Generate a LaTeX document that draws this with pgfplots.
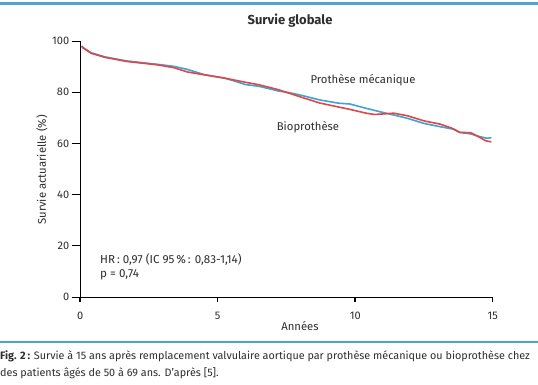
\documentclass[border=0pt]{standalone}
\usepackage{fontspec}
\setmainfont{Fira Sans}
\usepackage{pgfplots}
\pgfplotsset{compat=1.18}
\definecolor{mblue}{HTML}{3FA3D6}
\definecolor{mred}{HTML}{DE4848}
\definecolor{rulec}{HTML}{4BA6C8}
\definecolor{txt}{HTML}{2E2E2E}
\begin{document}
\begin{tikzpicture}[x=1pt,y=1pt]
\path[use as bounding box, fill=white] (0,0) rectangle (538,384);
\fill[rulec] (0,379) rectangle (538,381.5);
\fill[rulec] (0,41.5) rectangle (538,43.5);
\begin{axis}[
  at={(80.2pt,87pt)}, anchor=south west,
  scale only axis, width=412.5pt, height=256pt,
  xmin=0, xmax=15, ymin=0, ymax=100,
  axis x line=bottom, axis y line=left,
  axis line style={-, line width=0.9pt, black},
  xtick={0,5,10,15}, ytick={0,20,40,60,80,100},
  tick align=outside, major tick length=8.5pt,
  tick style={line width=0.8pt, black},
  xtick style={line width=1.5pt, /pgfplots/major tick length=4.5pt},
  ticklabel style={font=\fontsize{11}{13}\selectfont, text=txt},
  yticklabel style={xshift=1pt},
  /pgf/number format/assume math mode=true,
  xticklabel style={yshift=-3pt},
  clip=false,
]
\addplot[mblue, line width=1.6pt] coordinates {
(0.05,98.0) (0.1,97.5) (0.4,95.4) (0.9,93.8) (1.7,92.2) (2.8,90.9) (3.4,90.1)
(3.9,88.9) (4.5,86.9) (5.25,85.5) (5.6,84.4) (6.0,83.0) (6.5,82.3) (7.2,80.5)
(7.6,79.8) (8.0,78.9) (8.7,77.0) (9.4,75.7) (9.8,75.4) (10.4,73.7) (11.0,72.1)
(11.4,71.1) (11.9,69.8) (12.5,67.8) (13.1,66.5) (13.6,65.5) (13.8,64.3)
(14.2,63.7) (14.55,62.6) (14.8,62.0) (14.95,62.2)
};
\addplot[mred, line width=1.6pt] coordinates {
(0.05,98.0) (0.1,97.3) (0.4,95.2) (0.9,93.6) (1.7,92.0) (2.8,90.7) (3.4,89.6)
(3.9,87.9) (4.5,86.8) (5.25,85.5) (6.0,83.9) (6.5,82.9) (7.2,81.0) (8.0,78.2)
(8.7,75.8) (9.4,74.2) (9.8,73.3) (10.4,71.8) (10.7,71.3) (11.0,71.5) (11.4,71.8)
(11.9,70.8) (12.5,68.8) (13.1,67.5) (13.5,66.0) (13.8,64.3) (14.2,64.2)
(14.55,62.2) (14.75,61.0) (14.95,60.6)
};
\end{axis}
\node[font=\fontsize{13}{15}\selectfont\bfseries, text=txt] at (290,363) {Survie globale};
\node[font=\fontsize{11.3}{13}\selectfont, text=txt] at (363,304) {Prothèse mécanique};
\node[font=\fontsize{11.3}{13}\selectfont, text=txt] at (308,257) {Bioprothèse};
\node[font=\fontsize{11.6}{13}\selectfont, text=txt, anchor=west, inner sep=0pt] at (100,124) {HR\,: 0,97 (IC 95\,\%\,: 0,83-1,14)};
\node[font=\fontsize{11.6}{13}\selectfont, text=txt, anchor=west, inner sep=0pt] at (100,109) {p = 0,74};
\node[font=\fontsize{11.3}{13}\selectfont, text=txt] at (300,58) {Années};
\node[font=\fontsize{11.3}{13}\selectfont, text=txt, rotate=90] at (42,214) {Survie actuarielle (\%)};
\node[font=\fontsize{10.8}{13}\selectfont, text=txt, anchor=west, inner sep=0pt] at (0,28) {\textbf{Fig. 2\,:} Survie à 15 ans après remplacement valvulaire aortique par prothèse mécanique ou bioprothèse chez};
\node[font=\fontsize{10.8}{13}\selectfont, text=txt, anchor=west, inner sep=0pt] at (0,11) {des patients âgés de 50 à 69 ans. D’après [5].};
\end{tikzpicture}
\end{document}
